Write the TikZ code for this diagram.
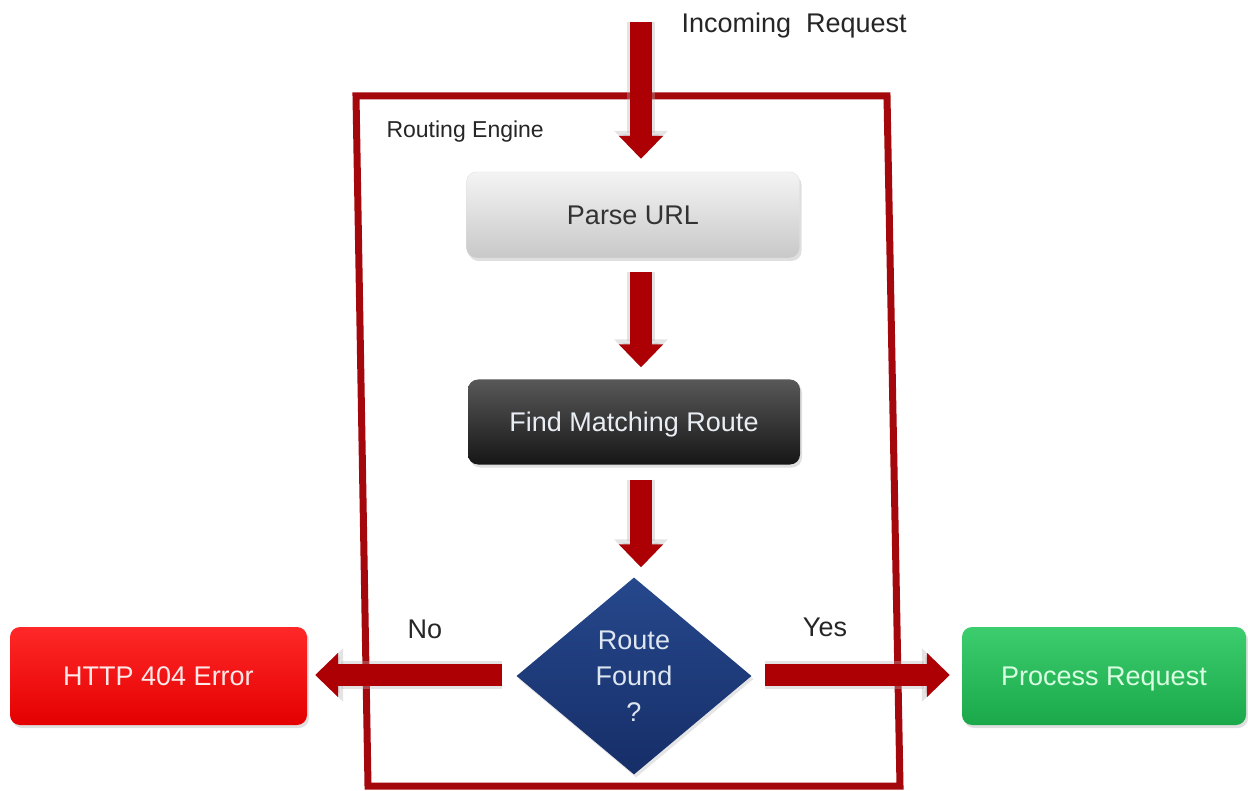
\documentclass[tikz,border=0pt]{standalone}
\usepackage{fontspec}
\setmainfont{Liberation Sans}
\usetikzlibrary{arrows.meta,shapes.geometric,shadows}
\definecolor{framered}{RGB}{165,8,12}
\definecolor{arrowred}{RGB}{172,0,4}
\definecolor{parsetop}{RGB}{244,244,244}
\definecolor{parsebot}{RGB}{200,200,200}
\definecolor{findtop}{RGB}{88,88,88}
\definecolor{findbot}{RGB}{22,22,22}
\definecolor{errtop}{RGB}{255,40,40}
\definecolor{errbot}{RGB}{228,0,0}
\definecolor{oktop}{RGB}{60,205,110}
\definecolor{okbot}{RGB}{26,168,74}
\definecolor{diatop}{RGB}{38,72,140}
\definecolor{diabot}{RGB}{22,46,104}
\begin{document}
\begin{tikzpicture}[x=1pt,y=-1pt,
  lbl/.style={font=\fontsize{27}{34}\selectfont, text=black!85},
  boxstyle/.style={rectangle, rounded corners=10pt, inner sep=0pt,
    font=\fontsize{27}{34}\selectfont, text height=19pt, text depth=0pt,
    drop shadow={shadow xshift=2pt, shadow yshift=-3pt, opacity=0.25}},
  bigarrow/.style={line width=22pt, draw=arrowred,
    -{Triangle[width=43pt,length=23pt]},
    preaction={draw=black!30, opacity=0.35, line width=28pt,
      -{Triangle[width=52pt,length=28pt]}}}
]
\useasboundingbox (0,0) rectangle (1248,791);
\fill[white] (0,0) rectangle (1248,791);

% routing engine frame
\draw[framered, line width=7pt, line join=miter]
  (356,96) -- (887,96) -- (900,786) -- (368,786) -- cycle;
\node[anchor=west, font=\fontsize{23}{28}\selectfont, text=black!85] (rtitle) at (383,132) {Routing Engine};

% nodes
\node[boxstyle, minimum width=333pt, minimum height=86pt,
      top color=parsetop, bottom color=parsebot, draw=black!12, text=black!80]
      (parse) at (633,215) {Parse URL};
\node[boxstyle, minimum width=332pt, minimum height=85pt,
      top color=findtop, bottom color=findbot, text={rgb,255:red,232;green,238;blue,244}]
      (find) at (634,422) {Find Matching Route};
\node[diamond, aspect=1.19, inner sep=0pt, minimum width=235pt, minimum height=197pt,
      top color=diatop, bottom color=diabot, align=center,
      font=\fontsize{27}{36}\selectfont, text={rgb,255:red,222;green,230;blue,240},
      drop shadow={shadow xshift=2pt, shadow yshift=-3pt, opacity=0.2}]
      (dec) at (634,676) {Route\\Found\\?};
\node[boxstyle, minimum width=297pt, minimum height=98pt,
      top color=errtop, bottom color=errbot, text={rgb,255:red,255;green,232;blue,232}]
      (err) at (158.5,676) {HTTP 404 Error};
\node[boxstyle, minimum width=284pt, minimum height=98pt,
      top color=oktop, bottom color=okbot, text={rgb,255:red,218;green,255;blue,226}]
      (ok) at (1104,676) {Process Request};

% labels
\node[lbl, anchor=west] (inreq) at (678,26) {Incoming\ \ Request};
\node[lbl] (nolbl) at (425,629) {No};
\node[lbl] (yeslbl) at (825,627) {Yes};

% connectors
\coordinate (start) at (641,22);
\draw[bigarrow, shorten >=13pt] (start) -- ([xshift=8pt]parse.north);
\draw[bigarrow, shorten <=14pt, shorten >=12pt] ([xshift=8pt]parse.south) -- ([xshift=7pt]find.north);
\draw[bigarrow, shorten <=15pt, shorten >=10pt] ([xshift=7pt]find.south) -- ([xshift=7pt]dec.north);
\draw[bigarrow, shorten <=14pt, shorten >=8pt] ([yshift=1pt]dec.west) -- ([yshift=1pt]err.east);
\draw[bigarrow, shorten <=13pt, shorten >=12pt] ([yshift=1pt]dec.east) -- ([yshift=1pt]ok.west);
\end{tikzpicture}
\end{document}
